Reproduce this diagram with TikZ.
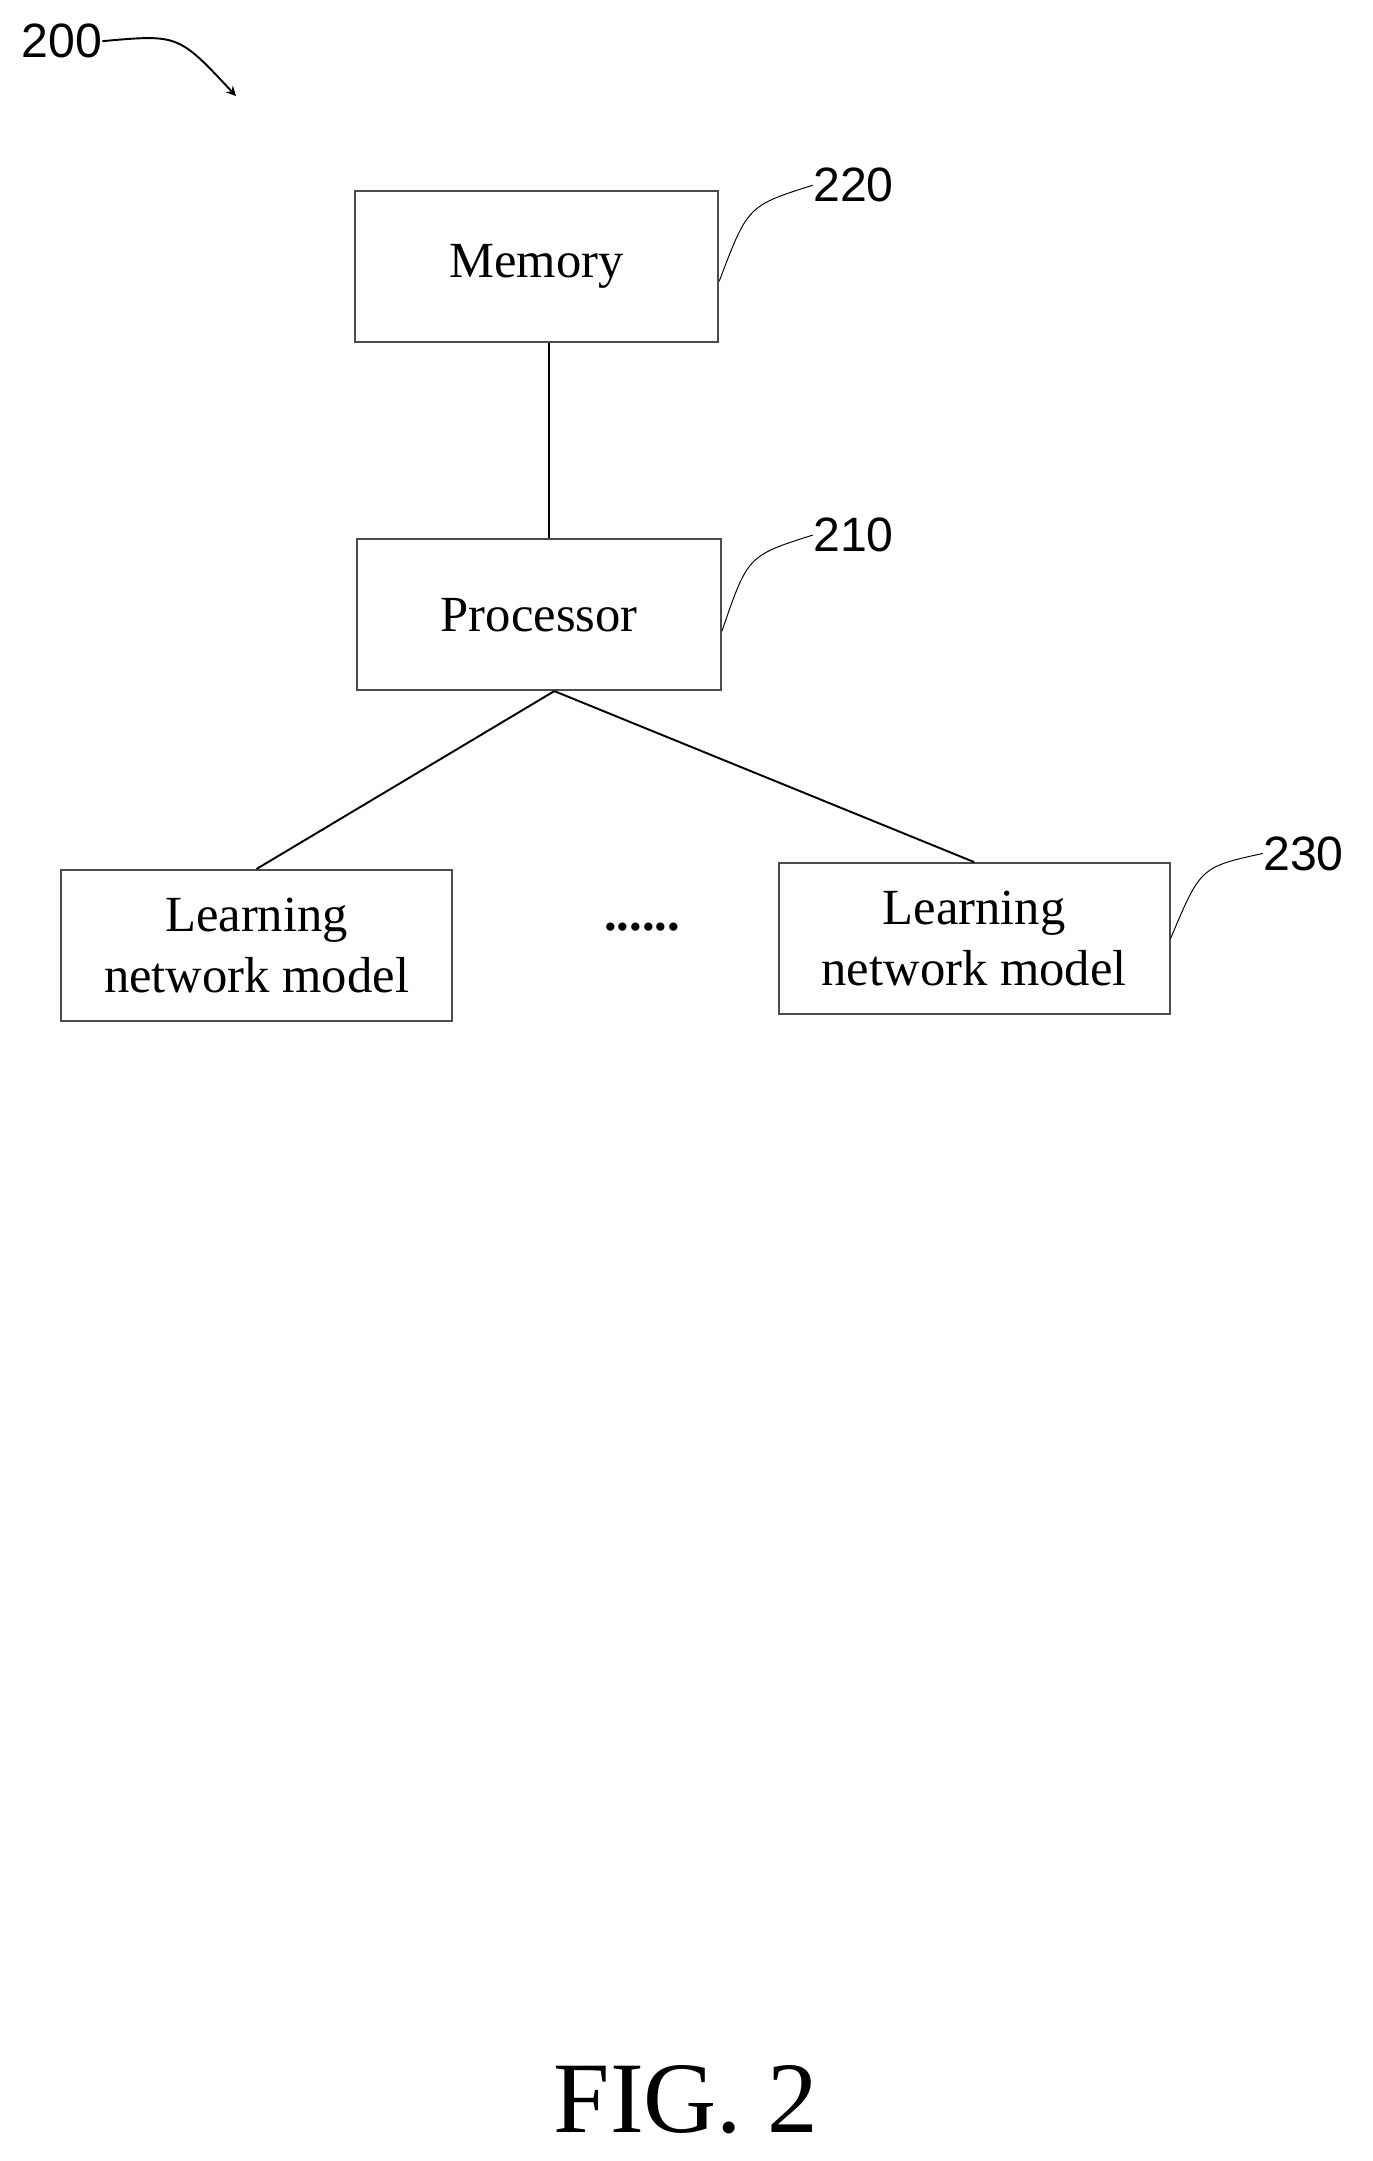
\documentclass[tikz,border=0pt]{standalone}
\usepackage{fontspec}
\setmainfont{Liberation Serif}
\newfontfamily\numfont{Liberation Sans}
\usetikzlibrary{positioning,arrows}
\begin{document}
\begin{tikzpicture}[x=0.02cm,y=-0.02cm,
    >=stealth,
    bb/.style={%
      rectangle, draw=black!70, thick, fill=white,
      minimum width=5.3cm, minimum height=2.2cm, align=center,
      font=\fontsize{21}{25}\selectfont
    },
    lnm/.style={%
      bb, minimum width=5.7cm
    },
    num/.style={%
      font=\numfont\fontsize{20}{24}\selectfont, inner sep=0pt
    }
]
    \useasboundingbox (0,0) rectangle (1000,1575);

    \node[bb]  (mem)   at (391,194)  {Memory};
    \node[bb]  (proc)  at (393,448)  {Processor};
    \node[lnm] (lnm1)  at (187,689)  {Learning\\network model};
    \node[lnm] (lnm2)  at (710,684)  {Learning\\network model};
    \node[font=\fontsize{21}{25}\selectfont] (dots) at (468,676) {\textbf{......}};

    \node[num] (n200) at (45,30)   {200};
    \node[num] (n220) at (622,135) {220};
    \node[num] (n210) at (622,390) {210};
    \node[num] (n230) at (950,622) {230};
    \node[font=\fontsize{42}{48}\selectfont] (fig) at (500,1530) {FIG. 2};

    \draw[thick] (mem.south -| 400,0) -- (proc.north -| 400,0);
    \draw[thick] (proc.south) ++(11,0) coordinate (pb);
    \draw[thick] (pb) -- (lnm1.north);
    \draw[thick] (pb) -- (lnm2.north);

    % leaders
    \draw (mem.east |- 0,205) .. controls (545,150) .. (n220.west);
    \draw (proc.east |- 0,460) .. controls (545,405) .. (n210.west);
    \draw (lnm2.east) .. controls (875,632) .. (n230.west);
    \draw[->, thick] (n200.east) .. controls (130,25) .. (172,70);
\end{tikzpicture}
\end{document}
